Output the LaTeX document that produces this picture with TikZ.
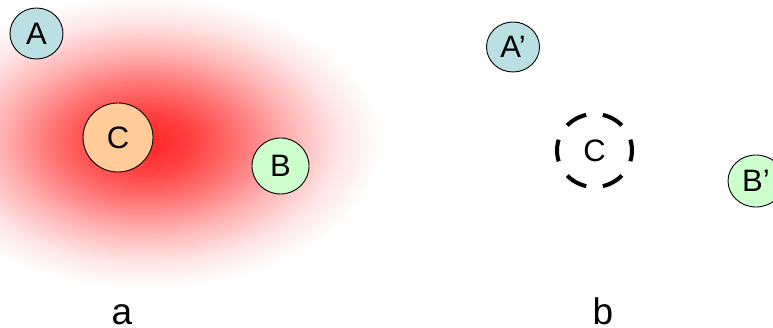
\documentclass[tikz,border=0pt]{standalone}
\usepackage{fontspec}
\setmainfont{Liberation Sans}
\usetikzlibrary{shapes.geometric}
\definecolor{cA}{RGB}{187,224,228}
\definecolor{cB}{RGB}{204,255,204}
\definecolor{cC}{RGB}{255,204,153}
\definecolor{glowred}{RGB}{255,40,40}
\pgfdeclareradialshading{glow}{\pgfpoint{0bp}{0bp}}{%
  color(0bp)=(glowred);
  color(2bp)=(glowred!97!white);
  color(5bp)=(glowred!88!white);
  color(10bp)=(glowred!63!white);
  color(15bp)=(glowred!35!white);
  color(20bp)=(glowred!12!white);
  color(24.5bp)=(white);
  color(50bp)=(white)}
\tikzset{
  blob/.style={ellipse, draw=black, line width=0.9pt, inner sep=0pt,
    font=\fontsize{31}{31}\selectfont},
  ghost/.style={ellipse, draw=black, line width=4pt, inner sep=0pt,
    dash pattern=on 22pt off 16.75pt, dash phase=11pt,
    font=\fontsize{31}{31}\selectfont},
  caption/.style={inner sep=0pt, font=\fontsize{37}{37}\selectfont}
}
\begin{document}
\begin{tikzpicture}[x=1pt,y=-1pt]
\useasboundingbox (0,0) rectangle (773,328);
\begin{scope}
\clip (0,0) rectangle (773,328);
\shade[shading=glow] (145,142) ellipse [x radius=242, y radius=150];
\end{scope}
\node[blob, fill=cA, minimum width=53pt, minimum height=51pt] (A) at (36.5,33.5) {A};
\node[blob, fill=cC, minimum width=70pt, minimum height=69pt] (C) at (118,137.5) {C};
\node[blob, fill=cB, minimum width=57pt, minimum height=56pt] (B) at (280.5,166) {B};
\node[blob, fill=cA, minimum width=53pt, minimum height=50pt] (A2) at (513,47) {A’};
\node[ghost, minimum width=75pt, minimum height=73pt] (C2) at (594.5,150.5) {C};
\node[blob, fill=cB, minimum width=56pt, minimum height=52pt] (B2) at (756,181) {B’};
\node[caption, anchor=base] (la) at (122,324) {a};
\node[caption, anchor=base] (lb) at (603,324) {b};
\end{tikzpicture}
\end{document}
